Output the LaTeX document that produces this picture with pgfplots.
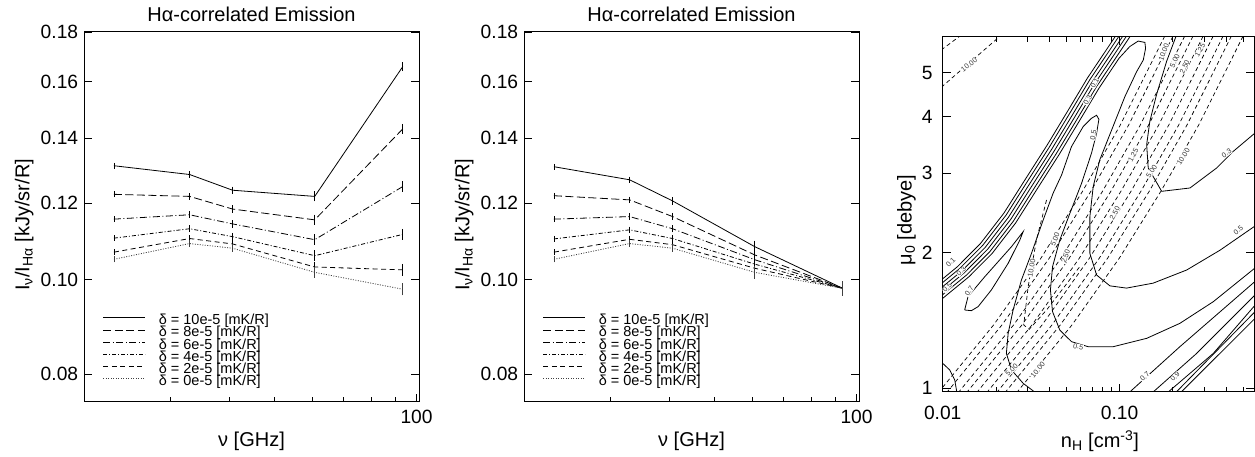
\documentclass[border=0pt]{standalone}
\usepackage{pgfplots}
\pgfplotsset{compat=1.18}
\usepackage{fontspec}
\setmainfont{Liberation Sans}

\tikzset{
  ls10/.style={black, line width=0.8pt, solid},
  ls8/.style={black, line width=0.8pt, dash pattern=on 8pt off 3.5pt},
  ls6/.style={black, line width=0.8pt, dash pattern=on 7pt off 2.5pt on 1pt off 2.5pt},
  ls4/.style={black, line width=0.8pt, dash pattern=on 4pt off 2pt on 1pt off 2pt},
  ls2/.style={black, line width=0.8pt, dash pattern=on 5pt off 3.5pt},
  ls0/.style={black!75, line width=0.8pt, dash pattern=on 1pt off 1.5pt},
  cont/.style={black, line width=0.8pt, solid},
  dcont/.style={black, line width=0.7pt, dash pattern=on 4pt off 3pt},
  clab/.style={font=\fontsize{7.2}{8}\selectfont, text=black!80, fill=white, inner sep=0.3pt},
}

\begin{document}
\begin{tikzpicture}
\useasboundingbox (0,0) rectangle (1255pt,457pt);

% ---------------- Panel 1 ----------------
\begin{axis}[at={(84pt,55.3pt)}, anchor=south west, scale only axis,
    width=335pt, height=370pt,
    xmode=log, ymode=log,
    xmin=19.7, xmax=101.2, ymin=0.0749, ymax=0.1802,
    xtick={100}, xticklabels={100},
    minor xtick={30,40,50,60,70,80,90},
    ytick={0.08,0.10,0.12,0.14,0.16,0.18},
    yticklabels={0.08,0.10,0.12,0.14,0.16,0.18},
    yminorticks=false, xtick pos=left,
    tick align=inside, major tick length=8pt, minor tick length=5pt,
    tick style={black, line width=0.7pt},
    axis line style={black, line width=0.9pt},
    ticklabel style={font=\fontsize{19.2}{20}\selectfont},
    xticklabel style={anchor=base, inner sep=0pt, yshift=-22pt},
    yticklabel style={anchor=east, inner sep=0pt, xshift=-5.7pt},
    title={Hα-correlated Emission},
    title style={font=\fontsize{20}{22}\selectfont, at={(axis description cs:0.5,1.027)}, anchor=base, yshift=-6pt, inner sep=0pt},
    xlabel={ν [GHz]},
    xlabel style={font=\fontsize{20}{22}\selectfont, at={(axis description cs:0.5,-0.1216)}, anchor=base, inner sep=0pt},
    ylabel={I\textsubscript{ν}/I\textsubscript{Hα} [kJy/sr/R]},
    ylabel style={font=\fontsize{20}{22}\selectfont, at={(axis description cs:-0.163,0.478)}, anchor=base, inner sep=0pt},
    legend style={draw=none, fill=none, inner sep=0pt, outer sep=0pt,
      at={(axis description cs:0.0567,0.234)}, anchor=north west,
      font=\fontsize{14.5}{14.5}\selectfont,
      row sep=0pt, column sep=13pt,
      nodes={inner sep=0pt, outer sep=0pt, text height=9.6pt, text depth=2.6pt}},
    legend image code/.code={\draw[#1] (0pt,3.4pt) -- (42pt,3.4pt);},
    legend cell align=left,
  ]
\addplot[ls10, error bars/.cd, y dir=both, y explicit, error bar style={solid, line width=0.7pt}, error mark options={solid, line width=0.7pt, mark size=2.2pt}] coordinates {(22.8,0.1311) +- (0,0.0002) (33.0,0.1284) +- (0,0.0003) (40.7,0.1237) +- (0,0.0004) (60.8,0.1219) +- (0,0.0008) (93.5,0.1659) +- (0,0.0009)};
\addlegendentry{δ = 10e-5 [mK/R]}
\addplot[ls8, error bars/.cd, y dir=both, y explicit, error bar style={solid, line width=0.7pt}, error mark options={solid, line width=0.7pt, mark size=2.2pt}] coordinates {(22.8,0.1225) +- (0,0.0002) (33.0,0.1219) +- (0,0.0003) (40.7,0.1183) +- (0,0.0004) (60.8,0.1153) +- (0,0.0008) (93.5,0.1431) +- (0,0.0009)};
\addlegendentry{δ = 8e-5 [mK/R]}
\addplot[ls6, error bars/.cd, y dir=both, y explicit, error bar style={solid, line width=0.7pt}, error mark options={solid, line width=0.7pt, mark size=2.2pt}] coordinates {(22.8,0.1155) +- (0,0.0002) (33.0,0.1167) +- (0,0.0003) (40.7,0.1142) +- (0,0.0004) (60.8,0.1100) +- (0,0.0008) (93.5,0.1248) +- (0,0.0009)};
\addlegendentry{δ = 6e-5 [mK/R]}
\addplot[ls4, error bars/.cd, y dir=both, y explicit, error bar style={solid, line width=0.7pt}, error mark options={solid, line width=0.7pt, mark size=2.2pt}] coordinates {(22.8,0.1104) +- (0,0.0002) (33.0,0.1129) +- (0,0.0003) (40.7,0.1108) +- (0,0.0004) (60.8,0.1059) +- (0,0.0008) (93.5,0.1114) +- (0,0.0009)};
\addlegendentry{δ = 4e-5 [mK/R]}
\addplot[ls2, error bars/.cd, y dir=both, y explicit, error bar style={solid, line width=0.7pt}, error mark options={solid, line width=0.7pt, mark size=2.2pt}] coordinates {(22.8,0.1068) +- (0,0.0002) (33.0,0.1103) +- (0,0.0003) (40.7,0.1089) +- (0,0.0004) (60.8,0.1031) +- (0,0.0008) (93.5,0.1024) +- (0,0.0009)};
\addlegendentry{δ = 2e-5 [mK/R]}
\addplot[ls0, error bars/.cd, y dir=both, y explicit, error bar style={solid, line width=0.7pt}, error mark options={solid, line width=0.7pt, mark size=2.2pt}] coordinates {(22.8,0.1050) +- (0,0.0002) (33.0,0.1090) +- (0,0.0003) (40.7,0.1078) +- (0,0.0004) (60.8,0.1018) +- (0,0.0008) (93.5,0.0978) +- (0,0.0009)};
\addlegendentry{δ = 0e-5 [mK/R]}
\end{axis}

% ---------------- Panel 2 ----------------
\begin{axis}[at={(524pt,55.3pt)}, anchor=south west, scale only axis,
    width=335pt, height=370pt,
    xmode=log, ymode=log,
    xmin=19.7, xmax=101.2, ymin=0.0749, ymax=0.1802,
    xtick={100}, xticklabels={100},
    minor xtick={30,40,50,60,70,80,90},
    ytick={0.08,0.10,0.12,0.14,0.16,0.18},
    yticklabels={0.08,0.10,0.12,0.14,0.16,0.18},
    yminorticks=false, xtick pos=left,
    tick align=inside, major tick length=8pt, minor tick length=5pt,
    tick style={black, line width=0.7pt},
    axis line style={black, line width=0.9pt},
    ticklabel style={font=\fontsize{19.2}{20}\selectfont},
    xticklabel style={anchor=base, inner sep=0pt, yshift=-22pt},
    yticklabel style={anchor=east, inner sep=0pt, xshift=-5.7pt},
    title={Hα-correlated Emission},
    title style={font=\fontsize{20}{22}\selectfont, at={(axis description cs:0.5,1.027)}, anchor=base, yshift=-6pt, inner sep=0pt},
    xlabel={ν [GHz]},
    xlabel style={font=\fontsize{20}{22}\selectfont, at={(axis description cs:0.5,-0.1216)}, anchor=base, inner sep=0pt},
    ylabel={I\textsubscript{ν}/I\textsubscript{Hα} [kJy/sr/R]},
    ylabel style={font=\fontsize{20}{22}\selectfont, at={(axis description cs:-0.163,0.478)}, anchor=base, inner sep=0pt},
    legend style={draw=none, fill=none, inner sep=0pt, outer sep=0pt,
      at={(axis description cs:0.0567,0.234)}, anchor=north west,
      font=\fontsize{14.5}{14.5}\selectfont,
      row sep=0pt, column sep=13pt,
      nodes={inner sep=0pt, outer sep=0pt, text height=9.6pt, text depth=2.6pt}},
    legend image code/.code={\draw[#1] (0pt,3.4pt) -- (42pt,3.4pt);},
    legend cell align=left,
  ]
\addplot[ls10, error bars/.cd, y dir=both, y explicit, error bar style={solid, line width=0.7pt}, error mark options={solid, line width=0.7pt, mark size=2.2pt}] coordinates {(22.8,0.1308) +- (0,0.0002) (33.0,0.1268) +- (0,0.0003) (40.7,0.1206) +- (0,0.0004) (60.8,0.1082) +- (0,0.0010) (93.5,0.0980) +- (0,0.0012)};
\addlegendentry{δ = 10e-5 [mK/R]}
\addplot[ls8, error bars/.cd, y dir=both, y explicit, error bar style={solid, line width=0.7pt}, error mark options={solid, line width=0.7pt, mark size=2.2pt}] coordinates {(22.8,0.1221) +- (0,0.0002) (33.0,0.1209) +- (0,0.0003) (40.7,0.1162) +- (0,0.0004) (60.8,0.1061) +- (0,0.0010) (93.5,0.0980) +- (0,0.0012)};
\addlegendentry{δ = 8e-5 [mK/R]}
\addplot[ls6, error bars/.cd, y dir=both, y explicit, error bar style={solid, line width=0.7pt}, error mark options={solid, line width=0.7pt, mark size=2.2pt}] coordinates {(22.8,0.1155) +- (0,0.0002) (33.0,0.1162) +- (0,0.0003) (40.7,0.1129) +- (0,0.0004) (60.8,0.1049) +- (0,0.0010) (93.5,0.0980) +- (0,0.0012)};
\addlegendentry{δ = 6e-5 [mK/R]}
\addplot[ls4, error bars/.cd, y dir=both, y explicit, error bar style={solid, line width=0.7pt}, error mark options={solid, line width=0.7pt, mark size=2.2pt}] coordinates {(22.8,0.1102) +- (0,0.0002) (33.0,0.1126) +- (0,0.0003) (40.7,0.1103) +- (0,0.0004) (60.8,0.1038) +- (0,0.0010) (93.5,0.0980) +- (0,0.0012)};
\addlegendentry{δ = 4e-5 [mK/R]}
\addplot[ls2, error bars/.cd, y dir=both, y explicit, error bar style={solid, line width=0.7pt}, error mark options={solid, line width=0.7pt, mark size=2.2pt}] coordinates {(22.8,0.1068) +- (0,0.0002) (33.0,0.1101) +- (0,0.0003) (40.7,0.1087) +- (0,0.0004) (60.8,0.1028) +- (0,0.0010) (93.5,0.0980) +- (0,0.0012)};
\addlegendentry{δ = 2e-5 [mK/R]}
\addplot[ls0, error bars/.cd, y dir=both, y explicit, error bar style={solid, line width=0.7pt}, error mark options={solid, line width=0.7pt, mark size=2.2pt}] coordinates {(22.8,0.1050) +- (0,0.0002) (33.0,0.1090) +- (0,0.0003) (40.7,0.1078) +- (0,0.0004) (60.8,0.1018) +- (0,0.0010) (93.5,0.0980) +- (0,0.0012)};
\addlegendentry{δ = 0e-5 [mK/R]}
\end{axis}

% ---------------- Panel 3 (contours; axes in log10 n_H, log10 mu_0) ----------------
\begin{axis}[at={(942.7pt,65.3pt)}, anchor=south west, scale only axis,
  width=311.3pt, height=355pt,
  xmin=-2, xmax=-0.24, ymin=-0.0074, ymax=0.7787,
  xtick={-2,-1}, xticklabels={0.01,0.10},
  minor xtick={-1.699,-1.523,-1.398,-1.301,-1.222,-1.155,-1.097,-1.046,-0.699,-0.523,-0.398,-0.301},
  ytick={0,0.30103,0.47712,0.60206,0.69897}, yticklabels={1,2,3,4,5},
  yminorticks=false,
  tick align=inside, major tick length=8pt, minor tick length=5pt,
  tick style={black, line width=0.7pt},
  axis line style={black, line width=0.9pt},
  ticklabel style={font=\fontsize{19.2}{20}\selectfont},
  xticklabel style={anchor=base, inner sep=0pt, yshift=-28.3pt},
  yticklabel style={anchor=east, inner sep=0pt, xshift=-10pt},
  xlabel={n\textsubscript{H} [cm\textsuperscript{-3}]},
  xlabel style={font=\fontsize{20}{22}\selectfont, at={(axis description cs:0.505,-0.1577)}, anchor=base, inner sep=0pt},
  ylabel={μ\textsubscript{0} [debye]},
  ylabel style={font=\fontsize{20}{22}\selectfont, at={(axis description cs:-0.0996,0.4837)}, anchor=base, inner sep=0pt},
]
% dashed contours (top-left corner)
\addplot[dcont] coordinates {(-2.008,0.7494) (-1.894,0.7826)};
\addplot[dcont] coordinates {(-2.008,0.6667) (-1.668,0.7826)};
% dashed contour family
\addplot[dcont] coordinates {(-2.051,-0.022) (-1.713,0.140) (-1.445,0.288) (-1.210,0.436) (-0.996,0.583) (-0.713,0.805)};
\addplot[dcont] coordinates {(-2.004,-0.022) (-1.666,0.140) (-1.398,0.288) (-1.163,0.436) (-0.949,0.583) (-0.666,0.805)};
\addplot[dcont] coordinates {(-1.938,-0.022) (-1.600,0.140) (-1.332,0.288) (-1.097,0.436) (-0.883,0.583) (-0.600,0.805)};
\addplot[dcont] coordinates {(-1.891,-0.022) (-1.553,0.140) (-1.285,0.288) (-1.050,0.436) (-0.836,0.583) (-0.553,0.805)};
\addplot[dcont] coordinates {(-1.834,-0.022) (-1.496,0.140) (-1.228,0.288) (-0.993,0.436) (-0.779,0.583) (-0.496,0.805)};
\addplot[dcont] coordinates {(-1.777,-0.022) (-1.439,0.140) (-1.171,0.288) (-0.936,0.436) (-0.722,0.583) (-0.439,0.805)};
\addplot[dcont] coordinates {(-1.721,-0.022) (-1.383,0.140) (-1.115,0.288) (-0.880,0.436) (-0.666,0.583) (-0.383,0.805)};
\addplot[dcont] coordinates {(-1.674,-0.022) (-1.336,0.140) (-1.068,0.288) (-0.833,0.436) (-0.619,0.583) (-0.336,0.805)};
\addplot[dcont] coordinates {(-1.608,-0.022) (-1.270,0.140) (-1.002,0.288) (-0.767,0.436) (-0.553,0.583) (-0.270,0.805)};
% dashed U-shaped contour
\addplot[dcont] coordinates {(-1.413,0.4171) (-1.470,0.3285) (-1.517,0.2252) (-1.542,0.1403) (-1.511,0.1307) (-1.413,0.1735) (-1.225,0.2695)};
% solid bundle
\addplot[cont] coordinates {(-2.107,0.208) (-2.033,0.232) (-1.918,0.269) (-1.786,0.321) (-1.654,0.388) (-1.541,0.458) (-1.409,0.539) (-1.295,0.613) (-1.182,0.687) (-1.069,0.753) (-0.994,0.797) (-0.956,0.819)};
\addplot[cont] coordinates {(-2.094,0.204) (-2.020,0.228) (-1.905,0.265) (-1.773,0.317) (-1.641,0.384) (-1.528,0.454) (-1.396,0.535) (-1.282,0.609) (-1.169,0.683) (-1.056,0.749) (-0.981,0.793) (-0.943,0.815)};
\addplot[cont] coordinates {(-2.081,0.199) (-2.007,0.223) (-1.892,0.260) (-1.760,0.312) (-1.628,0.379) (-1.515,0.449) (-1.383,0.530) (-1.269,0.604) (-1.156,0.678) (-1.043,0.744) (-0.968,0.788) (-0.930,0.810)};
\addplot[cont] coordinates {(-2.067,0.195) (-1.993,0.219) (-1.878,0.256) (-1.746,0.308) (-1.614,0.375) (-1.501,0.445) (-1.369,0.526) (-1.255,0.600) (-1.142,0.674) (-1.029,0.740) (-0.954,0.784) (-0.916,0.806)};
\addplot[cont] coordinates {(-2.054,0.190) (-1.980,0.214) (-1.865,0.251) (-1.733,0.303) (-1.601,0.370) (-1.488,0.440) (-1.356,0.521) (-1.242,0.595) (-1.129,0.669) (-1.016,0.735) (-0.941,0.779) (-0.903,0.801)};
% lowest bundle line turning into the upper finger
\addplot[cont] coordinates {(-2.041,0.186) (-1.967,0.210) (-1.852,0.247) (-1.720,0.299) (-1.588,0.366) (-1.475,0.436) (-1.343,0.517) (-1.229,0.591) (-1.116,0.665) (-1.003,0.731) (-0.942,0.757) (-0.895,0.769) (-0.857,0.766) (-0.853,0.753) (-0.866,0.727) (-0.904,0.701) (-0.970,0.646) (-1.045,0.572) (-1.112,0.506) (-1.149,0.447) (-1.168,0.380) (-1.168,0.299) (-1.130,0.251) (-1.055,0.227) (-0.961,0.222) (-0.810,0.233) (-0.621,0.262) (-0.432,0.306) (-0.225,0.362)};
% 0.7 loop
\addplot[cont] coordinates {(-1.876,0.1735) (-1.857,0.2030) (-1.762,0.2473) (-1.611,0.3138) (-1.545,0.3470) (-1.564,0.3285) (-1.630,0.2769) (-1.725,0.2178) (-1.800,0.1809) (-1.838,0.1720) (-1.876,0.1735)};
% big 0.5 curve
\addplot[cont] coordinates {(-1.470,-0.0111) (-1.545,0.0111) (-1.611,0.0406) (-1.640,0.0775) (-1.630,0.1218) (-1.602,0.1735) (-1.555,0.2399) (-1.498,0.2990) (-1.432,0.3728) (-1.376,0.4319) (-1.328,0.4725) (-1.272,0.5353) (-1.206,0.5795) (-1.159,0.5980) (-1.130,0.6047) (-1.117,0.5958) (-1.130,0.5648) (-1.159,0.5205) (-1.215,0.4540) (-1.281,0.3876) (-1.338,0.3285) (-1.379,0.2695) (-1.391,0.2178) (-1.379,0.1698) (-1.338,0.1292) (-1.272,0.1034) (-1.178,0.0923) (-1.036,0.0923) (-0.847,0.1107) (-0.659,0.1440) (-0.470,0.1920) (-0.225,0.2695)};
% 0.3 curve
\addplot[cont] coordinates {(-0.678,0.7826) (-0.734,0.7243) (-0.791,0.6504) (-0.829,0.5914) (-0.847,0.5397) (-0.838,0.4880) (-0.762,0.4363) (-0.602,0.4437) (-0.451,0.4880) (-0.357,0.5249) (-0.225,0.5685)};
% small arc lower-left
\addplot[cont] coordinates {(-2.000,0.0554) (-1.960,0.0406) (-1.932,0.0185) (-1.919,-0.0111)};
% lower right lines
\addplot[cont] coordinates {(-0.951,-0.0111) (-0.659,0.0923) (-0.225,0.2399)};
\addplot[cont] coordinates {(-0.819,-0.0111) (-0.564,0.0775) (-0.225,0.2104)};
\addplot[cont] coordinates {(-0.734,-0.0111) (-0.470,0.0775) (-0.225,0.1883)};
\addplot[cont] coordinates {(-0.687,-0.0111) (-0.225,0.1735)};
\addplot[cont] coordinates {(-0.659,-0.0111) (-0.225,0.1587)};
% contour labels
\node[clab, rotate=60] at (axis cs:-1.140,0.6755) {0.1};
\node[clab, rotate=60] at (axis cs:-1.180,0.6380) {0.3};
\node[clab, rotate=45] at (axis cs:-1.955,0.2790) {0.1};
\node[clab, rotate=45] at (axis cs:-1.895,0.2590) {0.3};
\node[clab, rotate=45] at (axis cs:-1.975,0.2230) {0.5};
\node[clab, rotate=55] at (axis cs:-1.850,0.2150) {0.7};
\node[clab, rotate=80] at (axis cs:-1.149,0.5611) {0.5};
\node[clab, rotate=-10] at (axis cs:-1.234,0.0923) {0.5};
\node[clab, rotate=40] at (axis cs:-0.329,0.3507) {0.5};
\node[clab, rotate=35] at (axis cs:-0.395,0.5205) {0.3};
\node[clab, rotate=40] at (axis cs:-0.857,0.0258) {0.7};
\node[clab, rotate=45] at (axis cs:-0.687,0.0258) {0.9};
\node[clab, rotate=38] at (axis cs:-1.851,0.7161) {10.00};
\node[clab, rotate=80] at (axis cs:-1.498,0.2658) {10.00};
\node[clab, rotate=70] at (axis cs:-1.365,0.3300) {5.00};
\node[clab, rotate=70] at (axis cs:-1.305,0.2920) {2.50};
\node[clab, rotate=62] at (axis cs:-1.027,0.3876) {2.50};
\node[clab, rotate=62] at (axis cs:-0.923,0.5168) {1.25};
\node[clab, rotate=58] at (axis cs:-0.819,0.4799) {5.00};
\node[clab, rotate=58] at (axis cs:-0.640,0.5131) {10.00};
\node[clab, rotate=45] at (axis cs:-1.610,0.0406) {5.00};
\node[clab, rotate=50] at (axis cs:-1.462,0.0406) {10.00};
\node[clab, rotate=70] at (axis cs:-0.750,0.7440) {10.00};
\node[clab, rotate=65] at (axis cs:-0.688,0.7250) {5.00};
\node[clab, rotate=65] at (axis cs:-0.632,0.7120) {2.50};
\node[clab, rotate=60] at (axis cs:-0.546,0.7493) {1.25};
\end{axis}
\end{tikzpicture}
\end{document}
